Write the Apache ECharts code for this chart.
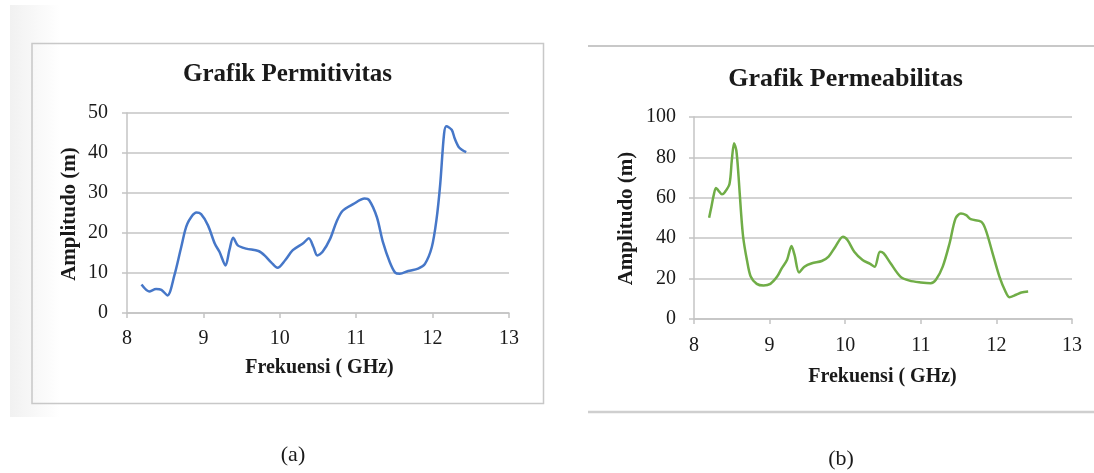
<!DOCTYPE html>
<html>
<head>
<meta charset="utf-8">
<script src="https://cdn.jsdelivr.net/npm/echarts@6/dist/echarts.min.js"></script>
<style>
html, body { margin: 0; padding: 0; background: #fff; }
#chart { width: 1094px; height: 473px; }
</style>
</head>
<body>
<div id="chart"></div>
<script>
// (a) Grafik Permitivitas
var freqA = [8.19, 8.29, 8.38, 8.45, 8.53, 8.62, 8.71, 8.79, 8.91, 8.97, 9.06, 9.15, 9.21, 9.29, 9.34, 9.39,
	9.45, 9.56, 9.72, 9.80, 9.89, 9.97, 10.07, 10.17, 10.31, 10.38, 10.44, 10.49, 10.56, 10.66, 10.74, 10.82,
	10.96, 11.11, 11.17, 11.27, 11.35, 11.44, 11.51, 11.57, 11.68, 11.81, 11.90, 11.99, 12.05, 12.10, 12.15,
	12.18, 12.25, 12.29, 12.35, 12.44];
var ampA = [7.1, 5.4, 6.0, 5.8, 4.4, 9.4, 16.5, 22.3, 25.1, 24.7, 21.9, 17.3, 15.3, 11.9, 15.7, 18.8,
	16.9, 16.1, 15.5, 14.4, 12.6, 11.3, 13.2, 15.7, 17.5, 18.7, 16.5, 14.4, 15.3, 18.6, 22.7, 25.5,
	27.2, 28.6, 28.2, 24.0, 17.7, 12.7, 10.1, 9.8, 10.5, 11.1, 12.3, 16.5, 23.2, 32.3, 44.8,
	46.7, 45.8, 43.6, 41.3, 40.2];

// (b) Grafik Permeabilitas
var freqB = [8.20, 8.23, 8.26, 8.29, 8.32, 8.37, 8.41, 8.47, 8.50, 8.53, 8.56, 8.59, 8.62, 8.65, 8.70, 8.75,
	8.83, 8.92, 9.01, 9.10, 9.16, 9.23, 9.29, 9.33, 9.39, 9.46, 9.56, 9.69, 9.78, 9.87, 9.97, 10.03,
	10.12, 10.23, 10.33, 10.39, 10.46, 10.51, 10.60, 10.73, 10.85, 11.00, 11.13, 11.20, 11.29, 11.38, 11.46,
	11.53, 11.60, 11.66, 11.80, 11.86, 11.95, 12.04, 12.12, 12.17, 12.26, 12.33, 12.42];
var ampB = [50.1, 55.5, 61.2, 64.9, 63.7, 61.7, 62.9, 67.0, 78.5, 87.0, 83.4, 70.3, 53.9, 40.7, 29.2, 21.0,
	17.4, 16.6, 17.4, 21.0, 25.1, 29.2, 36.1, 31.7, 23.0, 25.9, 27.6, 28.7, 30.9, 35.8, 40.7, 39.1,
	33.3, 29.2, 27.3, 25.9, 33.3, 32.5, 27.6, 21.0, 19.0, 18.1, 17.7, 19.4, 25.9, 37.4, 49.8,
	52.2, 51.4, 49.4, 48.1, 44.0, 32.5, 21.0, 13.6, 10.8, 12.0, 13.1, 13.6];

var titles = ['Grafik Permitivitas', 'Grafik Permeabilitas'];
var xName = 'Frekuensi ( GHz)';
var yName = 'Amplitudo (m)';
var captions = ['(a)', '(b)'];

var serif = '"Liberation Serif", "Times New Roman", serif';
var gridColor = '#c4c4c4';
var textColor = '#1a1a1a';

function pairs(xs, ys) {
	return xs.map(function (x, i) { return [x, ys[i]]; });
}

function xAxisOpt(gridIndex, margin) {
	return {
		type: 'value', gridIndex: gridIndex, min: 8, max: 13, interval: 1,
		axisLine: { show: true, lineStyle: { color: gridColor, width: 1.5 } },
		axisTick: { show: true, length: 5, lineStyle: { color: gridColor, width: 1.5 } },
		axisLabel: { margin: margin, color: textColor, fontFamily: serif, fontSize: 20 },
		splitLine: { show: false }
	};
}

function yAxisOpt(gridIndex, max, interval, margin) {
	return {
		type: 'value', gridIndex: gridIndex, min: 0, max: max, interval: interval,
		axisLine: { show: true, lineStyle: { color: gridColor, width: 1.5 } },
		axisTick: { show: true, length: 5, lineStyle: { color: gridColor, width: 1.5 } },
		axisLabel: { margin: margin, color: textColor, fontFamily: serif, fontSize: 20 },
		splitLine: { show: true, lineStyle: { color: gridColor, width: 1.5 } }
	};
}

function label(text, x, y, size, bold, rot) {
	return {
		type: 'text', x: x, y: y, rotation: rot || 0, z: 10,
		style: {
			text: text, fill: textColor, align: 'center', verticalAlign: 'middle',
			font: (bold ? 'bold ' : '') + size + 'px ' + serif
		}
	};
}

var chart = echarts.init(document.getElementById('chart'));

var option = {
	animation: false,
	backgroundColor: '#ffffff',
	grid: [
		{ left: 127, top: 113, right: 585, bottom: 160, outerBoundsMode: 'none' },
		{ left: 694, top: 117, right: 22, bottom: 154, outerBoundsMode: 'none' }
	],
	xAxis: [xAxisOpt(0, 16), xAxisOpt(1, 17)],
	yAxis: [yAxisOpt(0, 50, 10, 19), yAxisOpt(1, 100, 20, 18)],
	series: [
		{
			type: 'line', xAxisIndex: 0, yAxisIndex: 0, data: pairs(freqA, ampA),
			smooth: 0.3, showSymbol: false, symbol: 'none',
			lineStyle: { color: '#4677c8', width: 2.5 }
		},
		{
			type: 'line', xAxisIndex: 1, yAxisIndex: 1, data: pairs(freqB, ampB),
			smooth: 0.3, showSymbol: false, symbol: 'none',
			lineStyle: { color: '#70ad47', width: 2.5 }
		}
	],
	graphic: [
		// faint shading at the left edge of the scan
		{
			type: 'rect', shape: { x: 10, y: 5, width: 50, height: 412 }, z: -1, silent: true,
			style: {
				fill: new echarts.graphic.LinearGradient(0, 0, 1, 0, [
					{ offset: 0, color: '#f1f1f1' }, { offset: 1, color: '#ffffff' }
				])
			}
		},
		// frame of chart (a)
		{
			type: 'rect', shape: { x: 32, y: 43.5, width: 511.5, height: 360 }, z: 0, silent: true,
			style: { fill: 'none', stroke: '#c8c8c8', lineWidth: 1.5 }
		},
		// top and bottom rules of chart (b)
		{ type: 'line', shape: { x1: 588, y1: 46, x2: 1094, y2: 46 }, style: { stroke: '#c8c8c8', lineWidth: 2 } },
		{ type: 'line', shape: { x1: 588, y1: 412, x2: 1094, y2: 412 }, style: { stroke: '#cfcfcf', lineWidth: 2.5 } },

		label(titles[0], 287.5, 75, 25, true),
		label(titles[1], 845.5, 79, 26, true),
		label(yName, 70, 214, 21, true, Math.PI / 2),
		label(yName, 626.5, 218.5, 21, true, Math.PI / 2),
		label(xName, 319.5, 368, 20, true),
		label(xName, 882.5, 377, 20, true),
		label(captions[0], 293, 455, 22, false),
		label(captions[1], 841, 459, 22, false)
	]
};

chart.setOption(option);
</script>
</body>
</html>
